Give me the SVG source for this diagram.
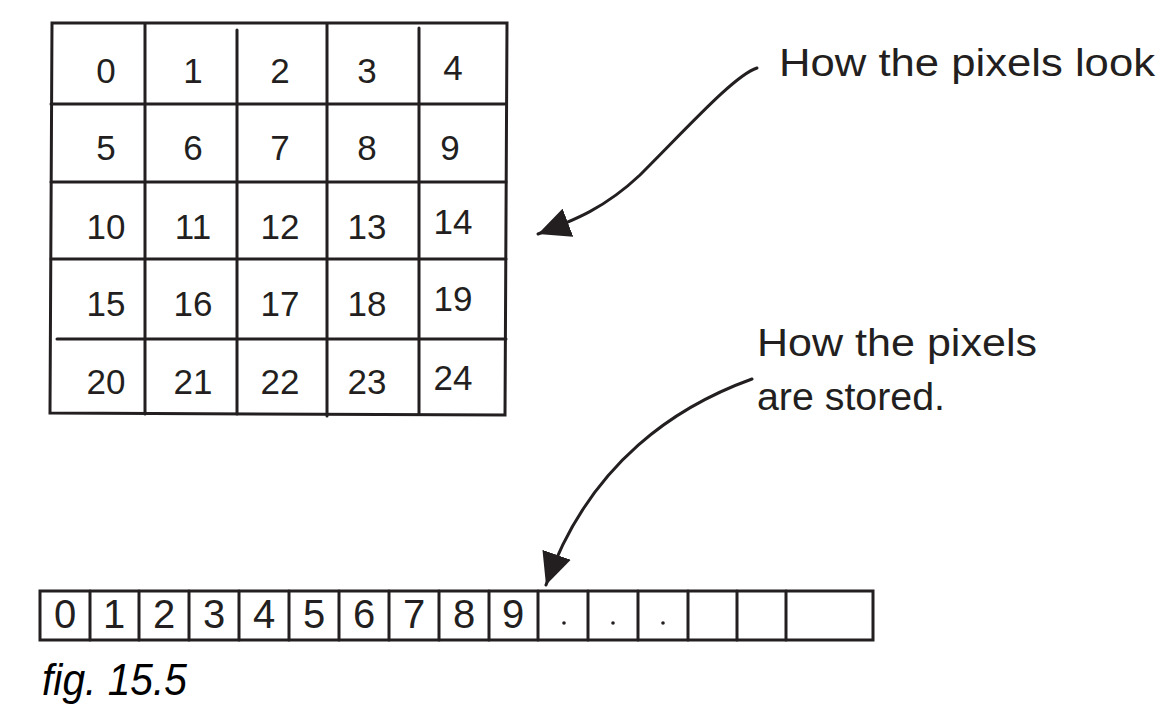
<svg xmlns="http://www.w3.org/2000/svg" width="1171" height="712" viewBox="0 0 1171 712">
<style>
.ln{stroke:#231f20;stroke-width:3;fill:none;stroke-linecap:round}
.num{font-family:"Liberation Sans",sans-serif;font-size:35px;fill:#231f20;text-anchor:middle}
.snum{font-family:"Liberation Sans",sans-serif;font-size:40px;fill:#231f20;text-anchor:middle}
.hand{font-family:"Liberation Sans",sans-serif;font-size:38px;fill:#231f20}
.cap{font-family:"Liberation Sans Narrow","Liberation Sans",sans-serif;font-size:44px;font-style:italic;fill:#000}
</style>
<defs>
<marker id="ahb" markerWidth="34" markerHeight="30" refX="32" refY="15" orient="auto" markerUnits="userSpaceOnUse">
<path d="M0,0 L32,15 L0,30 z" fill="#231f20"/>
</marker>
</defs>
<rect width="1171" height="712" fill="#fff"/>
<g id="grid">
<path class="ln" d="M52,23 L507,23 L505,415 L50,413 Z"/>
<path class="ln" d="M145,24 V414 M237,30 V414 M327,24 V416 M419,28 V414"/>
<path class="ln" d="M51,104 H506 M51,182 H506 M51,259 H506 M57,339 H506"/>
<g class="num">
<text x="106" y="83">0</text><text x="193" y="83">1</text><text x="280" y="83">2</text><text x="367" y="83">3</text><text x="453" y="80">4</text>
<text x="106" y="160">5</text><text x="193" y="160">6</text><text x="280" y="160">7</text><text x="367" y="160">8</text><text x="450" y="160">9</text>
<text x="106" y="239">10</text><text x="193" y="239">11</text><text x="280" y="239">12</text><text x="367" y="239">13</text><text x="453" y="234">14</text>
<text x="106" y="316">15</text><text x="193" y="316">16</text><text x="280" y="316">17</text><text x="367" y="316">18</text><text x="453" y="311">19</text>
<text x="106" y="394">20</text><text x="193" y="394">21</text><text x="280" y="394">22</text><text x="367" y="394">23</text><text x="453" y="390">24</text>
</g>
</g>
<g id="strip">
<path class="ln" d="M40,591 H873 V640 H40 Z"/>
<path class="ln" d="M90,591 V640 M139,591 V640 M189,591 V640 M239,591 V640 M289,591 V640 M339,591 V640 M389,591 V640 M439,591 V640 M489,591 V640 M538,591 V640 M588,591 V640 M638,591 V640 M688,591 V640 M737,591 V640 M786,591 V640"/>
<g class="snum">
<text x="65" y="628">0</text><text x="114" y="628">1</text><text x="164" y="628">2</text><text x="214" y="628">3</text><text x="264" y="628">4</text><text x="314" y="628">5</text><text x="364" y="628">6</text><text x="414" y="628">7</text><text x="464" y="628">8</text><text x="513" y="628">9</text>
</g>
<circle cx="564" cy="623" r="1.8" fill="#231f20"/>
<circle cx="613" cy="623" r="1.8" fill="#231f20"/>
<circle cx="663" cy="623" r="1.8" fill="#231f20"/>
</g>
<g id="label-look">
<text class="hand" x="779" y="76" textLength="376" lengthAdjust="spacingAndGlyphs">How the pixels look</text>
</g>
<g id="label-stored">
<text class="hand" x="757" y="356" textLength="280" lengthAdjust="spacingAndGlyphs">How the pixels</text>
<text class="hand" x="757" y="410" textLength="188" lengthAdjust="spacingAndGlyphs">are stored.</text>
</g>
<g id="connectors">
<path class="ln" d="M757,68 C735,75 690,125 640,175 C605,208 575,220 538,234" marker-end="url(#ahb)"/>
<path class="ln" d="M752,379 C680,405 590,460 546,585" marker-end="url(#ahb)"/>
</g>
<g id="caption">
<text class="cap" x="42" y="695" textLength="145" lengthAdjust="spacingAndGlyphs">fig. 15.5</text>
</g>
</svg>
